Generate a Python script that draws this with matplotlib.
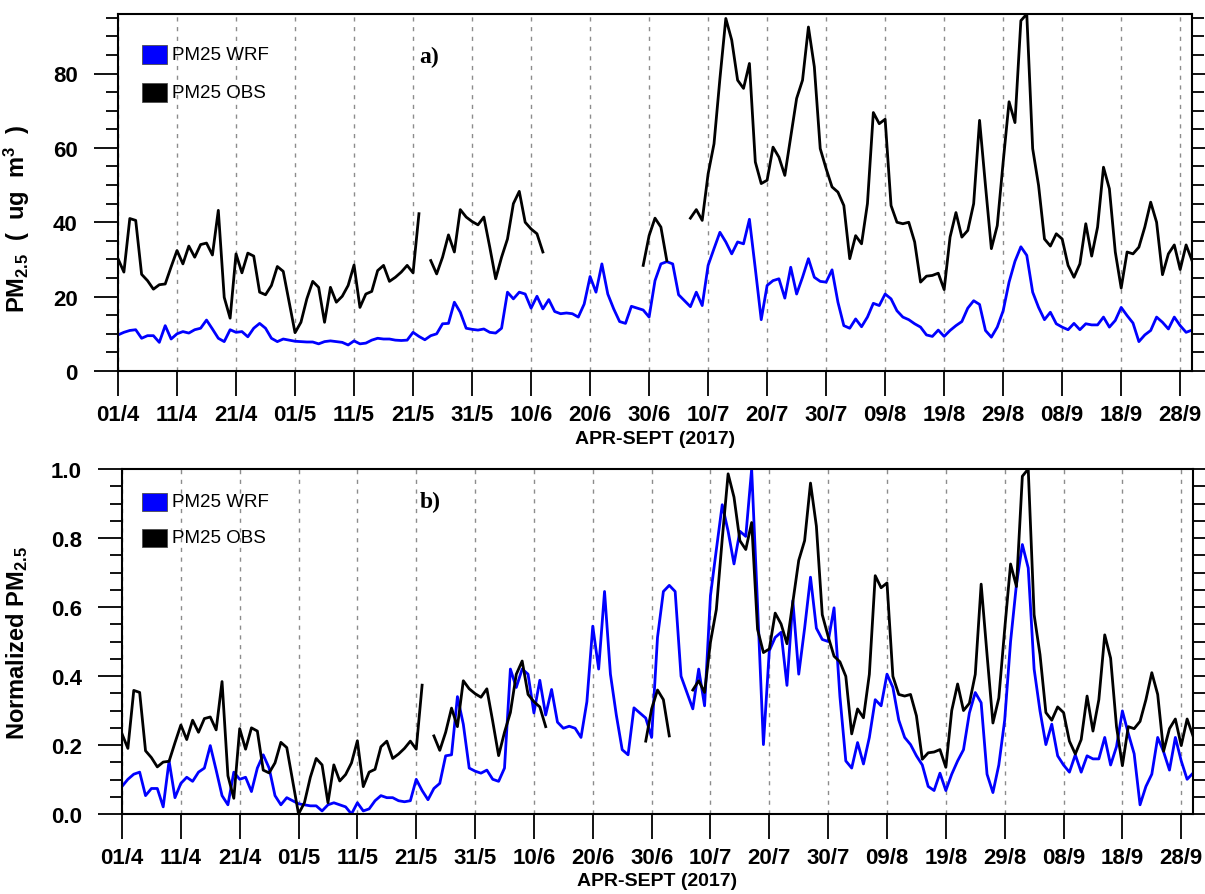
import matplotlib
matplotlib.use("Agg")
import matplotlib.pyplot as plt
from matplotlib.patches import Rectangle
from matplotlib.ticker import MultipleLocator, FixedLocator
import numpy as np

plt.rcParams["font.family"] = ["Liberation Sans", "DejaVu Sans"]
plt.rcParams["mathtext.fontset"] = "custom"
plt.rcParams["mathtext.bf"] = "Liberation Sans:bold"
plt.rcParams["mathtext.rm"] = "Liberation Sans:bold"
plt.rcParams["mathtext.default"] = "bf"

# daily values, 01/4 .. 30/9 2017 (183 days)
tick_days = list(range(0, 181, 10))
tick_labels = ["01/4", "11/4", "21/4", "01/5", "11/5", "21/5", "31/5", "10/6",
               "20/6", "30/6", "10/7", "20/7", "30/7", "09/8", "19/8", "29/8",
               "08/9", "18/9", "28/9"]

pm25_wrf = [
    9.7, 10.4, 10.9, 11.1, 8.8, 9.5, 9.5, 7.7, 12.2, 8.6,
    10.0, 10.6, 10.2, 11.1, 11.5, 13.7, 11.3, 8.8, 7.9, 11.1,
    10.4, 10.6, 9.2, 11.5, 12.8, 11.5, 8.8, 7.9, 8.6, 8.3,
    8.0, 7.9, 7.8, 7.8, 7.3, 7.9, 8.1, 7.9, 7.7, 7.0,
    8.1, 7.3, 7.5, 8.3, 8.8, 8.6, 8.6, 8.3, 8.2, 8.3,
    10.4, 9.3, 8.4, 9.5, 10.0, 12.7, 12.8, 18.5, 15.8, 11.5,
    11.2, 11.0, 11.3, 10.4, 10.2, 11.5, 21.2, 19.4, 21.2, 20.7,
    16.9, 20.1, 16.7, 19.2, 16.0, 15.4, 15.6, 15.4, 14.5, 18.0,
    25.4, 21.2, 28.8, 20.7, 16.7, 13.3, 12.8, 17.4, 16.9, 16.4,
    14.5, 24.3, 28.8, 29.4, 28.8, 20.5, 18.9, 17.3, 21.2, 17.6,
    28.4, 32.9, 37.3, 34.7, 31.5, 34.7, 34.2, 40.8, 27.5, 13.8,
    23.0, 24.3, 24.8, 19.6, 27.9, 20.7, 25.2, 30.2, 25.2, 24.1,
    23.9, 27.2, 18.5, 12.2, 11.5, 14.0, 11.9, 14.5, 18.2, 17.6,
    20.7, 19.4, 16.2, 14.5, 13.8, 12.7, 11.8, 9.7, 9.3, 11.0,
    9.3, 10.9, 12.2, 13.3, 16.9, 18.9, 17.9, 10.9, 9.1, 11.8,
    16.2, 23.9, 29.5, 33.4, 31.1, 21.2, 17.1, 13.8, 15.8, 12.7,
    11.8, 11.1, 12.8, 11.1, 12.7, 12.4, 12.4, 14.5, 11.8, 13.6,
    17.1, 14.9, 12.9, 7.9, 9.7, 10.9, 14.5, 13.1, 11.3, 14.5,
    12.2, 10.4, 11.0,
]

nan = np.nan
pm25_obs = [
    30.2, 26.6, 41.0, 40.5, 26.0, 24.3, 22.0, 23.2, 23.4, 28.0,
    32.4, 28.8, 33.6, 30.6, 34.0, 34.4, 31.2, 43.2, 19.8, 14.2,
    31.5, 26.4, 31.7, 30.9, 21.2, 20.5, 23.0, 28.1, 26.8, 18.5,
    10.3, 13.1, 19.4, 24.1, 22.5, 13.1, 22.5, 18.5, 20.1, 23.0,
    28.5, 17.1, 20.7, 21.4, 27.0, 28.4, 24.1, 25.2, 26.6, 28.4,
    26.4, 42.3, nan, 29.7, 26.1, 30.6, 36.6, 32.0, 43.4, 41.4,
    40.2, 39.3, 41.4, 33.3, 24.8, 30.6, 35.5, 45.0, 48.3, 40.0,
    38.2, 36.9, 32.0, nan, nan, nan, nan, nan, nan, nan,
    nan, nan, nan, nan, nan, nan, nan, nan, nan, 28.4,
    36.4, 41.1, 38.7, 29.7, nan, nan, nan, 41.1, 43.4, 40.5,
    53.0, 61.1, 78.6, 94.8, 89.0, 78.2, 76.0, 82.7, 56.2, 50.4,
    51.3, 60.2, 57.5, 52.6, 62.9, 73.3, 78.2, 92.5, 81.8, 59.8,
    54.4, 49.5, 48.1, 44.5, 30.2, 36.4, 34.2, 45.0, 69.5, 66.5,
    67.7, 44.5, 40.0, 39.6, 40.0, 34.7, 23.9, 25.5, 25.7, 26.3,
    21.9, 36.0, 42.6, 36.0, 37.8, 45.0, 67.4, 49.9, 32.9, 39.1,
    56.2, 72.4, 66.8, 94.2, 96.0, 59.8, 49.9, 35.5, 33.6, 36.9,
    35.5, 28.4, 25.2, 28.8, 39.6, 30.9, 38.7, 54.8, 49.0, 32.0,
    22.3, 32.0, 31.5, 33.3, 38.7, 45.4, 40.0, 25.9, 31.5, 33.9,
    27.3, 33.9, 29.7,
]

days = np.arange(len(pm25_wrf))
wrf = np.array(pm25_wrf)
obs = np.array(pm25_obs)
wrf_norm = (wrf - np.nanmin(wrf)) / (np.nanmax(wrf) - np.nanmin(wrf))
obs_norm = (obs - np.nanmin(obs)) / (np.nanmax(obs) - np.nanmin(obs))

W, H = 1205, 895
fig = plt.figure(figsize=(W / 100, H / 100), dpi=100)


def px_axes(x0, y0, x1, y1):
    return fig.add_axes([x0 / W, 1 - y1 / H, (x1 - x0) / W, (y1 - y0) / H])


def style(ax, ymax, major, minor, fmt):
    ax.set_xlim(0, 182)
    ax.set_ylim(0, ymax)
    ax.xaxis.set_major_locator(FixedLocator(tick_days))
    ax.set_xticklabels(tick_labels)
    ax.yaxis.set_major_locator(MultipleLocator(major))
    ax.yaxis.set_minor_locator(MultipleLocator(minor))
    ax.yaxis.set_major_formatter(plt.FuncFormatter(lambda v, p: fmt.format(v)))
    ax.tick_params(axis="x", which="major", direction="out", length=18,
                   width=1.3, pad=6, labelsize=16, top=False)
    ax.tick_params(axis="y", which="major", direction="out", length=17,
                   width=1.3, pad=12, labelsize=16, right=True)
    ax.tick_params(axis="y", which="minor", direction="out", length=8.5,
                   width=1.3, right=True)
    for lab in ax.get_xticklabels() + ax.get_yticklabels():
        lab.set_fontweight("bold")
    for s in ax.spines.values():
        s.set_linewidth(1.5)
    ax.grid(axis="x", which="major", color="0.55", linewidth=1.0,
            linestyle=(0, (3, 4)))
    ax.set_xlabel("APR-SEPT (2017)", fontsize=14, fontweight="bold", labelpad=3)


def key(x, ys, hgt):
    for y, c, lab in zip(ys, ["blue", "black"], ["PM25 WRF", "PM25 OBS"]):
        fig.add_artist(Rectangle((x / W, 1 - (y + hgt) / H), 25 / W, hgt / H,
                                 transform=fig.transFigure, facecolor=c,
                                 edgecolor="0.3", linewidth=0.6))
        fig.text((x + 30) / W, 1 - (y + hgt / 2) / H, lab, fontsize=13.5,
                 va="center", ha="left")


# a) concentrations
ax1 = px_axes(118, 15, 1192, 372)
ax1.plot(days, wrf, color="blue", linewidth=2.0)
ax1.plot(days, obs, color="black", linewidth=2.0)
style(ax1, 96, 20, 5, "{:.0f}")
ax1.set_ylabel(r"PM$_{2.5}$  (  ug  m$^{3}$  )", fontsize=17, fontweight="bold")
ax1.yaxis.set_label_coords(-0.08, 0.43)
ax1.text(0.29, 0.882, "a)", transform=ax1.transAxes, fontsize=17,
         fontweight="bold", family="Liberation Serif", ha="center", va="center")
key(142, [46, 84], 19)

# b) normalized
ax2 = px_axes(122, 470, 1193, 815)
ax2.plot(days, wrf_norm, color="blue", linewidth=2.0)
ax2.plot(days, obs_norm, color="black", linewidth=2.0)
style(ax2, 1.0, 0.2, 0.05, "{:.1f}")
ax2.set_ylabel(r"Normalized PM$_{2.5}$", fontsize=17, fontweight="bold")
ax2.yaxis.set_label_coords(-0.086, 0.5)
ax2.text(0.288, 0.907, "b)", transform=ax2.transAxes, fontsize=17,
         fontweight="bold", family="Liberation Serif", ha="center", va="center")
key(142, [494, 530], 18)

fig.savefig("out.png", dpi=100)
